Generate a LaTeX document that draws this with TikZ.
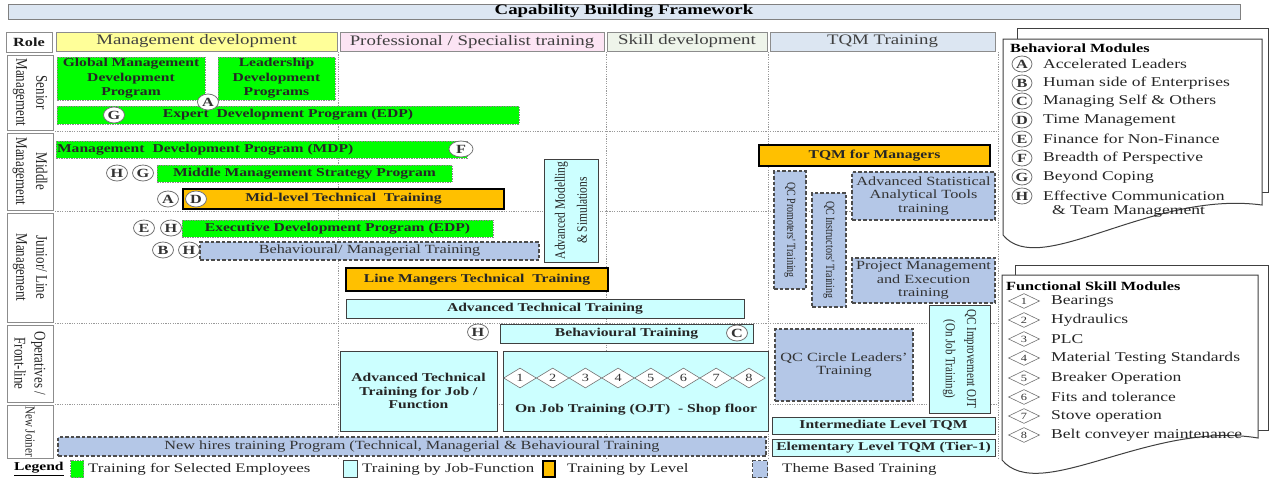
\documentclass[tikz,border=0pt]{standalone}
\usepackage{fontspec}
\setmainfont{Liberation Serif}[FakeStretch=1.3]
\newfontfamily\plainserif{Liberation Serif}
\usetikzlibrary{shapes.geometric}

\definecolor{selgreen}{HTML}{00FF00}
\definecolor{jobcyan}{HTML}{CCFFFF}
\definecolor{lvlorange}{HTML}{FFC000}
\definecolor{themeblue}{HTML}{B4C7E7}
\definecolor{titleblue}{HTML}{DCE6F2}
\definecolor{hdryellow}{HTML}{FFFF99}
\definecolor{hdrpink}{HTML}{FCE4F4}
\definecolor{hdrgreen}{HTML}{EEF4EA}
\definecolor{hdrblue}{HTML}{DCE6F2}

\newcommand{\cbfont}[2]{\fontsize{#1}{#2}\selectfont}
% box from its corners (x1,y1)-(x2,y2)
\newcommand{\cbbox}[7]{\node[#1, minimum width={#5-#3}, minimum height={#6-#4}] (#2) at ({(#3+#5)/2},{(#4+#6)/2}) {#7};}
% box from its corners with its text turned by #8 degrees (text style #9)
\newcommand{\cbvbox}[9]{%
  \node[#1, minimum width={#5-#3}, minimum height={#6-#4}] (#2) at ({(#3+#5)/2},{(#4+#6)/2}) {};
  \node[vtxt, #9, xscale=1.25, rotate=#8] (#2-t) at (#2.center) {#7};}

\tikzset{
  cbase/.style={rectangle, inner sep=0pt, align=center},
  vtxt/.style={inner sep=0pt, align=center, text=black!85},
  titlebar/.style={cbase, fill=titleblue, draw=black!50, line width=0.8pt, font=\cbfont{14.5}{16}\bfseries},
  hdr/.style={cbase, draw=black!45, line width=0.8pt, text=black!75, font=\cbfont{14.5}{16}},
  rolebox/.style={cbase, draw=black!45, fill=white, line width=0.8pt},
  roletxt/.style={font=\plainserif\cbfont{13}{16}},
  selbox/.style={cbase, fill=selgreen, draw=black!45, dash pattern=on 1.5pt off 1pt, line width=0.7pt, text=black!85, font=\cbfont{12}{14.5}\bfseries},
  jobbox/.style={cbase, fill=jobcyan, draw=black!75, line width=0.9pt, text=black!85, font=\cbfont{12}{13.5}\bfseries},
  lvlbox/.style={cbase, fill=lvlorange, draw=black, line width=2pt, text=black!85, font=\cbfont{12}{14}\bfseries},
  themebox/.style={cbase, fill=themeblue, draw=black!70, dash pattern=on 3.5pt off 2pt, line width=1.3pt, text=black!80, font=\cbfont{12.5}{13.5}},
  badge/.style={ellipse, draw=black!55, fill=white, line width=0.8pt, inner sep=0pt, minimum width=21pt, minimum height=16pt, text=black!80, font=\cbfont{12.5}{12}\bfseries},
  gem/.style={diamond, draw=black!55, fill=white, line width=0.6pt, inner sep=0pt, text=black!80, font=\cbfont{11}{11}},
  gridline/.style={draw=black!40, dash pattern=on 1.2pt off 1.2pt, line width=0.7pt},
  panel/.style={draw=black!75, line width=1pt},
  modtxt/.style={anchor=west, inner sep=0pt, text=black!85, font=\cbfont{13.5}{15}},
  modhead/.style={anchor=west, inner sep=0pt, font=\cbfont{12.5}{14}\bfseries},
  legtxt/.style={anchor=west, inner sep=0pt, text=black!85, font=\cbfont{13}{15}},
}

\begin{document}
\begin{tikzpicture}[x=1pt, y=-1pt]
\useasboundingbox (0,0) rectangle (1270,479);
\fill[white] (0,0) rectangle (1270,479);

% ---------- grid ----------
\foreach \gx in {338,606,768,998} \draw[gridline] (\gx,52) -- (\gx,458);
\foreach \gy in {131,211,323,404} \draw[gridline] (55,\gy) -- (998,\gy);

% ---------- title and column headers ----------
\cbbox{titlebar}{title}{8}{4}{1240}{19}{Capability Building Framework}
\cbbox{hdr, fill=white, text=black!90, font=\cbfont{12.5}{15}\bfseries}{role}{6}{32}{52}{52}{Role}
\cbbox{hdr, fill=hdryellow}{hmgmt}{56}{32}{337}{51}{Management development}
\cbbox{hdr, fill=hdrpink}{hprof}{340}{32}{604}{51}{Professional / Specialist training}
\cbbox{hdr, fill=hdrgreen}{hskill}{607}{32}{767}{51}{Skill development}
\cbbox{hdr, fill=hdrblue}{htqm}{770}{32}{995}{51}{TQM Training}

% ---------- row labels ----------
\cbvbox{rolebox}{rsen}{7}{55}{53}{130}{Senior\\Management}{-90}{roletxt}
\cbvbox{rolebox}{rmid}{7}{133}{53}{210}{Middle\\Management}{-90}{roletxt}
\cbvbox{rolebox}{rjun}{7}{213}{53}{322}{Junior/ Line\\Management}{-90}{roletxt}
\cbvbox{rolebox}{rops}{7}{325}{53}{402}{Operatives /\\Front-line}{-90}{roletxt}
\cbvbox{rolebox}{rnew}{7}{405}{53}{458}{New Joiner}{-90}{font=\plainserif\cbfont{11}{13}}

% ---------- senior management ----------
\cbbox{selbox}{gmdp}{57}{57}{205}{100}{Global Management\\Development\\Program}
\cbbox{selbox}{ldp}{218}{57}{335}{100}{Leadership\\Development\\Programs}
\cbbox{selbox}{edps}{57}{106}{519}{124}{Expert \ Development Program (EDP)}
\node[badge] (bA1) at (208,102) {A};
\node[badge] (bG1) at (114,115) {G};

% ---------- middle management ----------
\cbbox{selbox, align=left, text width=409}{mdp}{56}{141}{467}{158}{Management \ Development Program (MDP)}
\node[badge, minimum width=24pt] (bF1) at (461,149) {F};
\node[badge] (bH1) at (117,173) {H};
\node[badge] (bG2) at (143,173) {G};
\cbbox{selbox}{mmsp}{157}{165}{452}{182}{Middle Management Strategy Program}
\cbbox{lvlbox}{mltt}{183}{189}{504}{209}{Mid-level Technical \ Training}
\node[badge] (bA2) at (168,199) {A};
\node[badge] (bD1) at (196,199) {D};

% ---------- junior / line management ----------
\node[badge] (bE1) at (144,228) {E};
\node[badge] (bH2) at (171,228) {H};
\cbbox{selbox}{edpj}{182}{220}{493}{237}{Executive Development Program (EDP)}
\node[badge] (bB1) at (163,250) {B};
\node[badge] (bH3) at (189,250) {H};
\cbbox{themebox}{bmt}{200}{242}{539}{260}{Behavioural/ Managerial Training}
\cbvbox{jobbox}{ams}{544}{159}{598}{262}{Advanced Modelling\\\& Simulations}{90}{font=\plainserif\cbfont{11.5}{17.5}}
\cbbox{lvlbox}{lmtt}{346}{268}{608}{291}{Line Mangers Technical \ Training}
\cbbox{jobbox}{att}{346}{299}{744}{318}{Advanced Technical Training}

% ---------- TQM column ----------
\cbbox{lvlbox}{tqmm}{759}{145}{990}{166}{TQM for Managers}
\cbvbox{themebox}{qcp}{774}{171}{806}{289}{QC Promoters' Training}{-90}{font=\plainserif\cbfont{10}{12}}
\cbvbox{themebox}{qci}{812}{193}{846}{307}{QC Instructors' Training}{-90}{font=\plainserif\cbfont{10}{12}}
\cbbox{themebox}{asat}{852}{172}{995}{220}{Advanced Statistical\\Analytical Tools\\training}
\cbbox{themebox}{pme}{852}{258}{995}{303}{Project Management\\and Execution\\training}
\cbvbox{jobbox}{qcio}{929}{305}{990}{413}{QC Improvement OJT\\(On Job Training)}{-90}{font=\plainserif\cbfont{11}{17}}
\cbbox{themebox}{qccl}{775}{329}{913}{401}{QC Circle Leaders'\\Training}
\cbbox{jobbox}{ilt}{772}{417}{995}{434}{Intermediate Level TQM}
\cbbox{jobbox}{elt}{772}{439}{995}{456}{Elementary Level TQM (Tier-1)}

% ---------- operatives / front-line ----------
\node[badge] (bH4) at (478,332) {H};
\cbbox{jobbox}{bt}{500}{324}{753}{343}{Behavioural Training}
\node[badge] (bC1) at (737,333) {C};
\cbbox{jobbox}{attjf}{340}{351}{497}{431}{Advanced Technical\\Training for Job /\\Function}
\cbbox{jobbox}{ojt}{503}{351}{768}{431}{}
\foreach \i in {1,...,8}
  \node[gem, minimum width=32.7pt, minimum height=20pt] (oj\i) at ({520+(\i-1)*32.7},378) {\i};
\node[text=black!85, font=\cbfont{12}{14}\bfseries] (ojtlbl) at (636,410) {On Job Training (OJT) \ - Shop floor};

% ---------- new joiner ----------
\cbbox{themebox}{nhtp}{58}{437}{766}{456}{New hires training Program (Technical, Managerial \& Behavioural Training}

% ---------- legend ----------
\node[anchor=west, inner sep=0pt, font=\cbfont{12}{14}\bfseries] (leg) at (14,469) {\underline{Legend}};
\node[selbox, minimum width=13pt, minimum height=17pt] (lg1) at (77,469) {};
\node[legtxt] (lt1) at (88,469) {Training for Selected Employees};
\node[jobbox, minimum width=14pt, minimum height=17pt] (lg2) at (350,469) {};
\node[legtxt] (lt2) at (362,469) {Training by Job-Function};
\node[lvlbox, minimum width=12pt, minimum height=16pt] (lg3) at (549,469) {};
\node[legtxt] (lt3) at (567,469) {Training by Level};
\node[themebox, minimum width=15pt, minimum height=17pt] (lg4) at (760,469) {};
\node[legtxt] (lt4) at (782,469) {Theme Based Training};

% ---------- behavioral modules panel ----------
\draw[panel] (1017,39) -- (1017,28) -- (1268,28) -- (1268,192) -- (1262,192);
\draw[panel, fill=white] (1003,39) -- (1262,39) -- (1262,205)
   .. controls (1150,190) and (1040,280) .. (1003,235) -- cycle;
\node[modhead] (bmh) at (1010,48) {Behavioral Modules};
\foreach \L/\yy/\txt in {A/64/Accelerated Leaders, B/83/Human side of Enterprises,
    C/101/Managing Self \& Others, D/120/Time Management, E/139/Finance for Non-Finance,
    F/158/Breadth of Perspective, G/177/Beyond Coping, H/196/Effective Communication}{
  \node[badge, minimum width=20pt] (bm\L) at (1022,\yy) {\L};
  \node[modtxt] (bt\L) at (1043,\yy) {\txt};
}
\node[modtxt] (btH2) at (1052,211) {\& Team Management};

% ---------- functional skill modules panel ----------
\draw[panel] (1015,275) -- (1015,265) -- (1268,265) -- (1268,430) -- (1258,430);
\draw[panel, fill=white] (1002,275) -- (1258,275) -- (1258,438)
   .. controls (1150,420) and (1040,505) .. (1002,460) -- cycle;
\node[modhead] (fmh) at (1006,286) {Functional Skill Modules};
\foreach \n/\yy/\txt in {1/301/Bearings, 2/320/Hydraulics, 3/339/PLC,
    4/358/Material Testing Standards, 5/378/Breaker Operation, 6/397/Fits and tolerance,
    7/416/Stove operation, 8/435/Belt conveyer maintenance}{
  \node[gem, minimum width=31pt, minimum height=15pt, font=\cbfont{9.5}{10}] (fm\n) at (1024,\yy) {\n};
  \node[modtxt] (ft\n) at (1051,\yy) {\txt};
}
\end{tikzpicture}
\end{document}
